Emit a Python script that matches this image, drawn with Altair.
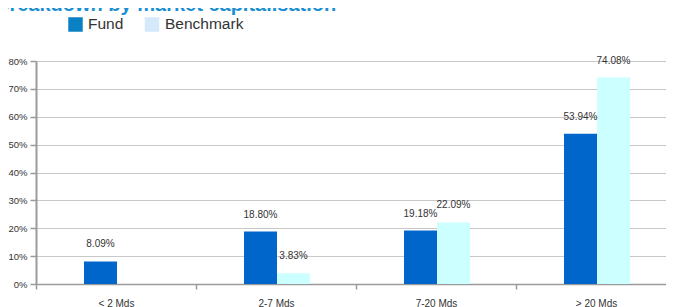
import altair as alt
import pandas as pd

# ---- data ----
categories = ["< 2 Mds", "2-7 Mds", "7-20 Mds", "> 20 Mds"]
fund = [8.09, 18.80, 19.18, 53.94]
benchmark = [None, 3.83, 22.09, 74.08]
series = ["Fund", "Benchmark"]
y_ticks = [0, 10, 20, 30, 40, 50, 60, 70, 80]
title_text = "Breakdown by market capitalisation"

# ---- styles ----
bar_colors = ["#0066cc", "#ccffff"]
legend_colors = ["#0a80c5", "#d5e9fa"]
FONT = "Liberation Sans"
TXT = "#333333"
AXIS = "#9a9a9a"

rows = []
for c, f, b in zip(categories, fund, benchmark):
    rows.append({"cat": c, "series": "Fund", "value": f})
    if b is not None:
        rows.append({"cat": c, "series": "Benchmark", "value": b})
df = pd.DataFrame(rows)

x_enc = alt.X(
    "cat:N", sort=categories,
    scale=alt.Scale(range=[0, 640], paddingInner=0, paddingOuter=0),
    axis=alt.Axis(title=None, labelAngle=0, tickBand="extent", grid=False,
                  domainColor=AXIS, domainWidth=1.5, tickColor=AXIS, tickWidth=1.5,
                  tickSize=5, labelPadding=9, labelFont=FONT, labelFontSize=10,
                  labelColor=TXT),
)
xo_enc = alt.XOffset("series:N", sort=series,
                     scale=alt.Scale(range=[48, 114], paddingInner=0, paddingOuter=0))
y_enc = alt.Y(
    "value:Q",
    scale=alt.Scale(domain=[0, 80], nice=False),
    axis=alt.Axis(title=None, values=y_ticks, labelExpr="datum.value + '%'",
                  grid=True, gridColor="#c8c8c8", gridWidth=1,
                  domainColor=AXIS, domainWidth=2, tickColor=AXIS, tickWidth=1.5,
                  tickSize=6, labelPadding=3, labelFont=FONT, labelFontSize=9.5,
                  labelColor=TXT),
)

bars = alt.Chart(df).mark_bar().encode(
    x=x_enc, xOffset=xo_enc, y=y_enc,
    color=alt.Color("series:N", scale=alt.Scale(domain=series, range=bar_colors), legend=None),
)

labels = alt.Chart(df).transform_calculate(
    label="format(datum.value, '.2f') + '%'"
).mark_text(dy=-17, fontSize=10, font=FONT, color=TXT).encode(
    x=x_enc, xOffset=xo_enc, y=y_enc, text="label:N"
)

# ---- manual legend ----
leg_sq_x = [39.5, 116]
leg_tx_x = [52, 129]
legend_layers = []
for s, col, sx, tx in zip(series, legend_colors, leg_sq_x, leg_tx_x):
    d = pd.DataFrame({"series": [s]})
    legend_layers.append(
        alt.Chart(d).mark_square(size=210, color=col, opacity=1).encode(
            x=alt.value(sx), y=alt.value(-36.5))
    )
    legend_layers.append(
        alt.Chart(d).mark_text(align="left", baseline="middle", fontSize=15.5, font=FONT,
                               color=TXT).encode(
            x=alt.value(tx), y=alt.value(-37), text="series:N")
    )

title = alt.Chart(pd.DataFrame({"t": [title_text]})).mark_text(
    align="left", baseline="alphabetic", fontSize=20, fontWeight="bold", font=FONT,
    color="#1b8fd2"
).encode(x=alt.value(-41), y=alt.value(-50), text="t:N")

chart = alt.layer(bars, labels, *legend_layers, title).properties(
    width=630, height=223,
    padding={"left": 28, "top": 53, "right": 0, "bottom": 30},
    autosize=alt.AutoSizeParams(type="none"),
).configure_view(stroke=None)

chart.save("out.html", embed_options={"renderer": "svg", "actions": False})
